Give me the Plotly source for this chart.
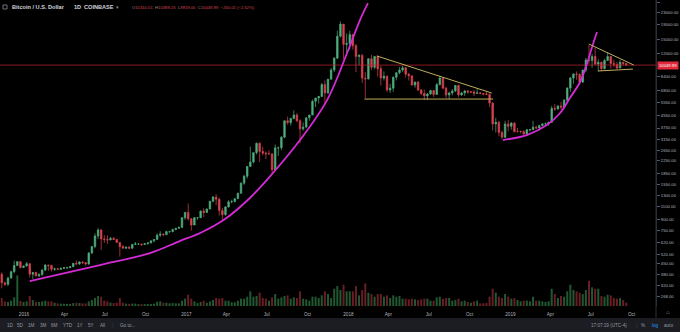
import math
import pandas as pd
import plotly.graph_objects as go

# ---------------- data (weekly candles, BTC/USD Coinbase) ----------------
START_WEEK = "2015-11-09"
FIRST_OPEN = 380

close_2015 = [332, 324, 357, 395, 435, 462, 422, 432]
high_2015 = [390, 338, 365, 400, 470, 467, 465, 435]
low_2015 = [304, 315, 316, 355, 385, 432, 415, 418]
vol_2015 = [60, 35, 30, 40, 65, 230, 38, 30]

close_2016 = [448, 380, 390, 370, 378, 405, 438, 435, 410, 413, 410, 416, 420,
              420, 427, 450, 445, 460, 455, 445, 530, 585, 690, 760, 660, 655,
              650, 665, 655, 625, 585, 570, 580, 570, 605, 610, 610, 605, 612,
              620, 640, 655, 700, 710, 705, 740, 740, 765, 780, 790, 920, 1000]
high_2016 = [460, 450, 390, 395, 385, 410, 445, 440, 440, 420, 420, 420, 425,
             425, 430, 450, 470, 465, 465, 460, 535, 590, 720, 780, 770, 700,
             700, 680, 680, 660, 630, 600, 585, 590, 610, 630, 612, 610, 615,
             625, 645, 655, 720, 745, 720, 750, 745, 775, 780, 800, 930, 1000]
low_2016 = [428, 360, 352, 367, 364, 370, 400, 400, 395, 400, 405, 405, 412,
            415, 418, 425, 440, 440, 445, 436, 440, 520, 570, 660, 555, 620,
            610, 645, 650, 620, 500, 570, 565, 565, 565, 600, 600, 590, 600,
            605, 615, 625, 650, 680, 690, 700, 725, 730, 755, 770, 790, 890]
vol_2016 = [35, 75, 45, 32, 30, 35, 40, 35, 35, 25, 20, 18, 17,
            16, 16, 22, 25, 22, 20, 20, 35, 45, 60, 75, 70, 40,
            35, 25, 22, 25, 60, 25, 18, 16, 18, 18, 14, 14, 14,
            15, 16, 18, 32, 35, 25, 25, 20, 22, 20, 20, 40, 55]

close_2017 = [905, 820, 920, 920, 1020, 1000, 1055, 1190, 1270, 1230, 1030, 965, 1090,
              1180, 1185, 1240, 1350, 1580, 1760, 2050, 2200, 2550, 2950, 2600, 2530, 2500,
              2500, 1950, 2750, 2750, 3250, 4200, 4080, 4360, 4600, 4200, 3700, 3800, 4400,
              4600, 5700, 6000, 6150, 7400, 6500, 8050, 9300, 11200, 15800, 19100, 13900, 14100]
high_2017 = [1150, 910, 930, 925, 1030, 1065, 1060, 1200, 1290, 1330, 1260, 1070, 1100,
             1210, 1220, 1240, 1360, 1600, 1800, 2070, 2800, 2550, 2990, 3000, 2800, 2600,
             2650, 2530, 2900, 2800, 3300, 4200, 4480, 4400, 4950, 4750, 4300, 4100, 4400,
             4600, 5850, 6000, 6200, 7600, 7900, 8100, 9600, 11400, 17200, 19900, 19100, 16500]
low_2017 = [880, 750, 820, 890, 915, 930, 990, 1050, 1170, 1120, 950, 890, 950,
            1080, 1150, 1170, 1230, 1340, 1540, 1700, 2050, 2150, 2480, 2200, 2450, 2300,
            2480, 1850, 1920, 2420, 2650, 3200, 3950, 3900, 4300, 4100, 2950, 3600, 3800,
            4200, 4600, 5200, 5500, 6100, 5500, 6400, 8000, 9000, 11100, 15500, 11000, 12000]
vol_2017 = [85, 55, 35, 22, 30, 40, 25, 35, 45, 60, 55, 60, 40,
            40, 28, 28, 40, 55, 55, 70, 110, 70, 75, 100, 60, 55,
            40, 65, 90, 55, 65, 75, 80, 55, 65, 60, 110, 55, 50,
            40, 70, 70, 60, 80, 110, 90, 60, 130, 150, 120, 160, 110]

close_2018 = [16200, 13600, 11500, 11700, 8200, 8100, 11100, 9700, 11500, 9500, 8200, 8450, 6800,
              7000, 8300, 8900, 9300, 9650, 8700, 8500, 7350, 7700, 6800, 6450, 6200, 6400,
              6750, 6350, 7400, 8200, 7000, 6300, 6500, 6700, 7300, 6300, 6500, 6700, 6600,
              6600, 6450, 6500, 6450, 6400, 6350, 5550, 4000, 4100, 3500, 3250, 4000, 3850, 4050]
high_2018 = [17200, 16300, 14000, 11900, 12000, 9000, 11200, 11800, 11600, 11700, 9900, 9100, 8500,
             7500, 8400, 9000, 9750, 9900, 9700, 8900, 8500, 7750, 7800, 6900, 6850, 6500,
             6800, 6800, 7600, 8500, 8250, 7150, 6600, 6900, 7300, 7400, 6600, 6800, 6800,
             6700, 6800, 7000, 6600, 6500, 6600, 6450, 5600, 4400, 4200, 3600, 4200, 4250, 4100]
low_2018 = [12800, 12800, 9000, 10000, 7600, 6000, 8000, 9300, 9400, 8400, 7300, 7900, 6600,
            6500, 6600, 7900, 8700, 9000, 8300, 7900, 7300, 7050, 6700, 6300, 5800, 5800,
            6300, 6100, 6300, 7300, 6900, 6000, 5900, 6250, 6600, 6100, 6200, 6200, 6400,
            6500, 6200, 6400, 6400, 6250, 6300, 5200, 3600, 3500, 3300, 3150, 3200, 3550, 3650]
vol_2018 = [110, 110, 150, 80, 120, 170, 100, 90, 70, 90, 90, 70, 80,
            60, 80, 70, 75, 55, 55, 50, 55, 50, 45, 50, 55, 55,
            40, 40, 65, 70, 55, 60, 60, 40, 45, 55, 35, 40, 30,
            25, 35, 40, 20, 20, 22, 70, 130, 100, 70, 60, 90, 70, 55]

close_2019 = [3550, 3550, 3550, 3420, 3650, 3650, 3800, 3750, 3900, 4000, 4000, 4100,
              5100, 5050, 5300, 5200, 5800, 7000, 8200, 8750, 8700, 7700, 9300, 10900, 10800,
              11500, 10200, 10500, 9500, 10800, 11500, 10300, 10150, 9600, 10500, 10300, 10049.99]
high_2019 = [4100, 3750, 3600, 3600, 3700, 3700, 4200, 3900, 3950, 4050, 4100, 4150,
             5300, 5450, 5350, 5650, 5900, 7100, 8350, 8800, 9100, 8800, 9350, 11250, 13800,
             12000, 13200, 11000, 10600, 11100, 12300, 11600, 10950, 10600, 10900, 10500, 10400]
low_2019 = [3500, 3500, 3450, 3350, 3350, 3550, 3650, 3700, 3700, 3850, 3950, 3900,
            4100, 4900, 5000, 5000, 5150, 5700, 6600, 7500, 8000, 7400, 7600, 9000, 10200,
            9650, 10100, 9100, 9150, 9400, 10800, 9500, 9750, 9400, 9600, 9950, 9900]
vol_2019 = [60, 45, 35, 40, 40, 35, 70, 40, 40, 35, 30, 35,
            130, 90, 60, 75, 70, 110, 160, 120, 110, 100, 90, 120, 190,
            140, 130, 130, 75, 70, 85, 80, 60, 55, 60, 45, 25]

LAST_PRICE = 10049.99

# drawings (trend lines / arcs) in data coordinates
curve1_dates = ["2016-01-14", "2016-06-20", "2016-10-11", "2016-12-17", "2017-02-01",
                "2017-03-29", "2017-05-24", "2017-07-15", "2017-09-14", "2017-11-14",
                "2017-12-29", "2018-01-27", "2018-02-14"]
curve1_prices = [341, 438, 529, 638, 724, 901, 1253, 1853, 3106, 5808, 12140, 20360, 26550]
curve2_dates = ["2018-12-15", "2019-02-07", "2019-03-24", "2019-04-23", "2019-05-15",
                "2019-06-07", "2019-06-23", "2019-07-04", "2019-07-15"]
curve2_prices = [3106, 3357, 3926, 4742, 5998, 7709, 10375, 13335, 16870]
tri1_top_dates, tri1_top_prices = ["2018-03-06", "2018-11-20"], [11590, 6486]
tri1_base_dates, tri1_base_prices = ["2018-02-06", "2018-11-23"], [5902, 5902]
tri2_top_dates, tri2_top_prices = ["2019-06-27", "2019-10-06"], [13970, 10056]
tri2_base_dates, tri2_base_prices = ["2019-07-17", "2019-10-04"], [9162, 9441]

y_tick_vals = [268, 320, 380, 450, 520, 620, 750, 900, 1100, 1300, 1550, 1850, 2250,
               2650, 3150, 3750, 4550, 5550, 6800, 8400, 12000, 15000, 19000, 23000, 27000]
x_tick_dates = ["2016-01-01", "2016-04-01", "2016-07-01", "2016-10-01",
                "2017-01-01", "2017-04-01", "2017-07-01", "2017-10-01",
                "2018-01-01", "2018-04-01", "2018-07-01", "2018-10-01",
                "2019-01-01", "2019-04-01", "2019-07-01", "2019-10-01"]
x_tick_text = ["2016", "Apr", "Jul", "Oct", "2017", "Apr", "Jul", "Oct",
               "2018", "Apr", "Jul", "Oct", "2019", "Apr", "Jul", "Oct"]
X_RANGE = ["2015-11-08", "2019-11-25"]

# ---------------- assemble ----------------
closes = close_2015 + close_2016 + close_2017 + close_2018 + close_2019
highs = high_2015 + high_2016 + high_2017 + high_2018 + high_2019
lows = low_2015 + low_2016 + low_2017 + low_2018 + low_2019
vols = vol_2015 + vol_2016 + vol_2017 + vol_2018 + vol_2019
assert len(closes) == len(highs) == len(lows) == len(vols)
opens = [FIRST_OPEN] + closes[:-1]
dates = pd.date_range(START_WEEK, periods=len(closes), freq="7D") + pd.Timedelta(days=3)

UP = "#4fae7e"
DOWN = "#d9434f"
UP_V = "rgba(60,160,90,0.55)"
DOWN_V = "rgba(190,55,65,0.55)"
vol_colors = [UP_V if c >= o else DOWN_V for o, c in zip(opens, closes)]

W, H = 680, 332
PLOT_R = 656
PLOT_B = 306
xd1 = PLOT_R / W
yd0 = (H - PLOT_B) / H

fig = go.Figure()
fig.add_trace(go.Bar(x=dates, y=vols, marker_color=vol_colors, marker_line_width=0,
                     width=4.5 * 86400000, yaxis="y", hoverinfo="skip"))
fig.add_trace(go.Scatter(x=X_RANGE, y=[LAST_PRICE, LAST_PRICE], mode="lines",
                         line=dict(color="rgba(190,35,45,0.75)", width=1), yaxis="y2",
                         hoverinfo="skip"))
fig.add_trace(go.Candlestick(x=dates, open=opens, high=highs, low=lows, close=closes,
                             yaxis="y2",
                             increasing=dict(line=dict(color=UP, width=0.7), fillcolor=UP),
                             decreasing=dict(line=dict(color=DOWN, width=0.7), fillcolor=DOWN)))
MAG = "#d42bd4"
for dx, py in [(curve1_dates, curve1_prices), (curve2_dates, curve2_prices)]:
    fig.add_trace(go.Scatter(x=dx, y=py, mode="lines", yaxis="y2",
                             line=dict(color=MAG, width=1.8, shape="spline", smoothing=1.0),
                             hoverinfo="skip"))
TRI = "#bfae5a"
for dx, py in [(tri1_top_dates, tri1_top_prices), (tri1_base_dates, tri1_base_prices),
               (tri2_top_dates, tri2_top_prices), (tri2_base_dates, tri2_base_prices)]:
    fig.add_trace(go.Scatter(x=dx, y=py, mode="lines", yaxis="y2",
                             line=dict(color=TRI, width=1), hoverinfo="skip"))

LBL = "#b2b5be"
FONT = "Liberation Sans, Arial, sans-serif"
fig.update_layout(
    width=W, height=H, margin=dict(l=0, r=0, t=0, b=0),
    paper_bgcolor="#000000", plot_bgcolor="#000000", showlegend=False,
    font=dict(family=FONT, color=LBL),
    xaxis=dict(domain=[0, xd1], type="date", range=X_RANGE, tickvals=x_tick_dates,
               ticktext=x_tick_text, tickfont=dict(size=4.6, color=LBL), showgrid=False,
               zeroline=False, ticks="outside", ticklen=3, tickcolor="rgba(0,0,0,0)",
               rangeslider=dict(visible=False), anchor="y"),
    yaxis=dict(domain=[yd0, 1], range=[0, 2300], visible=False, showgrid=False),
    yaxis2=dict(type="log", range=[2.363, 4.445], overlaying="y", side="right", anchor="x",
                tickvals=y_tick_vals, ticktext=[f"{v:.2f}" for v in y_tick_vals],
                tickfont=dict(size=4.2, color=LBL), ticks="outside", ticklen=3,
                tickcolor="#555a66", showgrid=False, zeroline=False, showline=True,
                linecolor="#2a2e39", linewidth=1),
)

shapes = [
    dict(type="rect", xref="paper", yref="paper", x0=0, x1=1, y0=0, y1=14 / H,
         fillcolor="#1b1d23", line=dict(width=0), layer="below"),
    dict(type="line", xref="paper", yref="paper", x0=xd1, x1=xd1, y0=14 / H, y1=1,
         line=dict(color="#2a2e39", width=1)),
    dict(type="rect", xref="paper", yref="paper", x0=3 / W, x1=7 / W, y0=1 - 9 / H, y1=1 - 5 / H,
         line=dict(color="#8a8d96", width=0.8)),
]
fig.update_layout(shapes=shapes)

annotations = []
def txt(text, x, y, size=4.6, color=LBL, anchor="left", **kw):
    annotations.append(dict(text=text, xref="paper", yref="paper", x=x / W, y=1 - y / H,
                            xanchor=anchor, yanchor="middle", showarrow=False,
                            font=dict(size=size, color=color, family=FONT), **kw))

txt("<b>Bitcoin / U.S. Dollar</b>", 10, 7, size=5.6, color="#d1d4dc")
txt("<b>1D</b>", 72, 7, size=5.6, color="#d1d4dc")
txt("<b>COINBASE</b>", 82, 7, size=5.6, color="#d1d4dc")
txt("▾", 114, 7, size=5, color="#8a8d96")
RED = "#d9434f"
G = "#8a8d96"
ohlc = (f"<span style='color:{G}'>O</span><span style='color:{RED}'>10310.01</span>  "
        f"<span style='color:{G}'>H</span><span style='color:{RED}'>10389.25</span>  "
        f"<span style='color:{G}'>L</span><span style='color:{RED}'>9919.00</span>  "
        f"<span style='color:{G}'>C</span><span style='color:{RED}'>10049.99</span>  "
        f"<span style='color:{RED}'>−260.01 (−2.52%)</span>")
txt(ohlc, 130, 7, size=4.2)

# price tag
annotations.append(dict(text="10049.99", xref="paper", yref="y2", x=(PLOT_R + 1) / W,
                        y=math.log10(LAST_PRICE), xanchor="left", yanchor="middle",
                        showarrow=False, bgcolor="#e0293b", borderpad=1,
                        font=dict(size=4.2, color="#ffffff", family=FONT)))

# bottom toolbar
for lab, xc in [("1D", 10), ("5D", 20.5), ("1M", 31.5), ("3M", 43), ("6M", 54),
                ("YTD", 67.5), ("1Y", 79.5), ("5Y", 90.5), ("All", 102)]:
    txt(lab, xc, 325, size=4.6, color="#9598a1", anchor="center")
txt("|", 112, 325, size=5, color="#3a3e49", anchor="center")
txt("Go to...", 118, 325, size=4.6, color="#9598a1")
txt("17:07:19 (UTC-4)", 609, 325, size=4.6, color="#9598a1", anchor="center")
txt("|", 636, 325, size=5, color="#3a3e49", anchor="center")
txt("%", 643, 325, size=4.6, color="#9598a1", anchor="center")
txt("log", 655, 325, size=4.6, color="#2196f3", anchor="center")
txt("auto", 668, 325, size=4.6, color="#9598a1", anchor="center")
txt("⌂", 668, 312, size=6, color="#9598a1", anchor="center")

fig.update_layout(annotations=annotations)
fig.write_html("out.html")
